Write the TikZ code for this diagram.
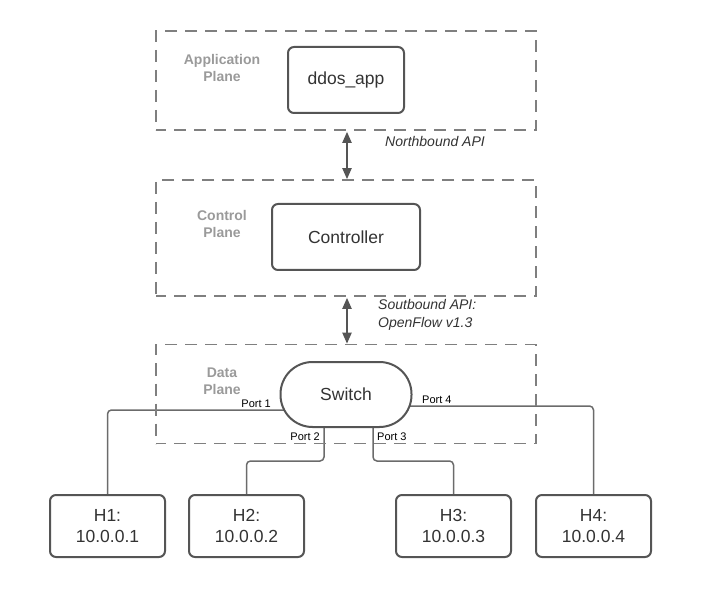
\documentclass[tikz,border=0pt]{standalone}
\usepackage{fontspec}
\setmainfont{Liberation Sans}
\usetikzlibrary{arrows.meta,calc}
\pgfdeclarelayer{background}
\pgfsetlayers{background,main}
\definecolor{boxline}{HTML}{555555}
\definecolor{dashline}{HTML}{7F7F7F}
\definecolor{wire}{HTML}{6B6B6B}
\definecolor{planetext}{HTML}{9A9A9A}
\definecolor{maintext}{HTML}{333333}
\tikzset{
  plane/.style={draw=dashline, line width=1.6pt, dash pattern=on 12pt off 8pt,
    dash phase=2pt, minimum width=380pt, inner sep=0pt},
  planelabel/.style={text=planetext, font=\fontsize{14}{17}\selectfont\bfseries,
    align=center, inner sep=0pt},
  compbox/.style={draw=boxline, line width=2pt, rounded corners=6pt, fill=white,
    text=maintext, font=\fontsize{17.5}{21}\selectfont, inner sep=0pt, align=center},
  hostbox/.style={compbox, minimum width=115pt, minimum height=62pt},
  apilink/.style={draw=boxline, line width=2pt,
    {Triangle[width=9pt,length=11pt]}-{Triangle[width=9pt,length=11pt]}},
  apilabel/.style={text=maintext, font=\fontsize{14}{18}\selectfont\itshape,
    align=left, inner sep=0pt},
  wirestyle/.style={draw=wire, line width=1.5pt, rounded corners=4pt},
  portlabel/.style={text=black, font=\fontsize{11}{12}\selectfont, inner sep=0pt},
}
\begin{document}
\begin{tikzpicture}[x=1pt, y=-1pt]
\useasboundingbox (0,0) rectangle (702,604);

% planes
\node[plane, minimum height=99pt] (appplane) at (346,80.5) {};
\node[plane, minimum height=116pt] (ctlplane) at (346,238) {};
\node[plane, minimum height=99pt] (dataplane) at (346,394) {};

\node[planelabel] (applbl) at (222,67.5) {Application\\Plane};
\node[planelabel] (ctllbl) at (222,224) {Control\\Plane};
\node[planelabel] (datalbl) at (222,381) {Data\\Plane};

% components
\node[compbox, minimum width=116pt, minimum height=66pt] (app) at (346,80) {ddos\_app};
\node[compbox, minimum width=148pt, minimum height=66pt] (ctl) at (346,237) {Controller};
\node[compbox, minimum width=131pt, minimum height=65pt, rounded corners=32pt] (sw) at (346,394.5) {Switch};

% hosts
\node[hostbox] (h1) at (107.5,526) {H1:\\10.0.0.1};
\node[hostbox] (h2) at (246.5,526) {H2:\\10.0.0.2};
\node[hostbox] (h3) at (453.5,526) {H3:\\10.0.0.3};
\node[hostbox] (h4) at (593.5,526) {H4:\\10.0.0.4};

% API links between planes
\draw[apilink] (appplane.south) ++(1,1) coordinate (nbtop) -- (nbtop |- ctlplane.north);
\draw[apilink] (ctlplane.south) ++(1,1) coordinate (sbtop) -- (sbtop |- dataplane.north);
\node[apilabel, anchor=west] (nblbl) at (385,142) {Northbound API};
\node[apilabel, anchor=west] (sblbl) at (378,315) {Soutbound API:\\OpenFlow v1.3};

% switch ports to hosts
\coordinate (p1) at (100,410);
\coordinate (p2) at (324,461);
\coordinate (p3) at (373,461);
\coordinate (p4) at (600,406);
\begin{pgfonlayer}{background}
  \draw[wirestyle] (sw.center |- p1) -| (h1.north);
  \draw[wirestyle] (sw.center -| p2) -- (p2) -| (h2.north);
  \draw[wirestyle] (sw.center -| p3) -- (p3) -| (h3.north);
  \draw[wirestyle] (sw.center |- p4) -| (h4.north);
\end{pgfonlayer}

\node[portlabel, anchor=south east] (pl1) at (271,408) {Port 1};
\node[portlabel, anchor=south west] (pl4) at (422,404) {Port 4};
\node[portlabel, anchor=east] (pl2) at (320,437) {Port 2};
\node[portlabel, anchor=west] (pl3) at (377,437) {Port 3};
\end{tikzpicture}
\end{document}
